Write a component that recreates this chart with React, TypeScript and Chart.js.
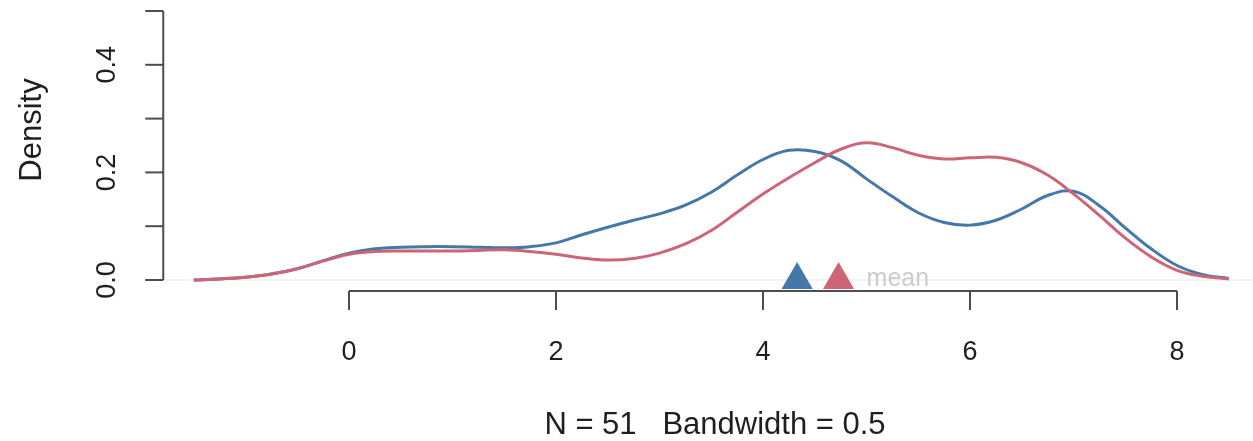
import React, { useEffect, useRef } from 'react';
import { Chart, registerables } from 'chart.js';

Chart.register(...registerables);

// ---- data ----
const xGrid = [-1.5, -1.25, -1.0, -0.75, -0.5, -0.25, 0.0, 0.25, 0.5, 0.75, 1.0, 1.25, 1.5, 1.75, 2.0, 2.25, 2.5, 2.75, 3.0, 3.25, 3.5, 3.75, 4.0, 4.25, 4.5, 4.75, 5.0, 5.25, 5.5, 5.75, 6.0, 6.25, 6.5, 6.75, 7.0, 7.25, 7.5, 7.75, 8.0, 8.25, 8.5];
const blueDensity = [0.0, 0.002, 0.005, 0.011, 0.021, 0.036, 0.05, 0.058, 0.061, 0.062, 0.062, 0.061, 0.06, 0.062, 0.069, 0.084, 0.098, 0.111, 0.123, 0.139, 0.163, 0.195, 0.224, 0.241, 0.239, 0.222, 0.188, 0.155, 0.125, 0.107, 0.102, 0.111, 0.132, 0.157, 0.165, 0.138, 0.097, 0.058, 0.027, 0.01, 0.003];
const redDensity = [0.0, 0.002, 0.005, 0.011, 0.021, 0.035, 0.048, 0.053, 0.054, 0.054, 0.054, 0.055, 0.056, 0.053, 0.048, 0.041, 0.037, 0.04, 0.05, 0.067, 0.092, 0.126, 0.16, 0.19, 0.218, 0.243, 0.255, 0.246, 0.232, 0.225, 0.227, 0.228, 0.218, 0.195, 0.16, 0.12, 0.078, 0.043, 0.018, 0.007, 0.002];
const meanValues = [4.33, 4.73];
const seriesColors = ['#4477AA', '#CC6677'];
const xTicks = [0, 2, 4, 6, 8];
const yTicks = [0, 0.1, 0.2, 0.3, 0.4, 0.5];
const yTickLabels = ['0.0', '', '0.2', '', '0.4', ''];
const xTitle = 'N = 51   Bandwidth = 0.5';
const yTitle = 'Density';
const meanLabel = 'mean';

const FONT = '"Liberation Sans", Arial, Helvetica, sans-serif';
const AXIS_COLOR = '#4d4d4d';

const rAxesPlugin = {
  id: 'rAxes',
  beforeDatasetsDraw(chart: any) {
    const { ctx, chartArea, scales } = chart;
    const y0 = scales.y.getPixelForValue(0);
    ctx.save();
    ctx.strokeStyle = '#efefef';
    ctx.lineWidth = 1.5;
    ctx.beginPath();
    ctx.moveTo(chartArea.left - 30, y0);
    ctx.lineTo(chart.width, y0);
    ctx.stroke();
    ctx.restore();
  },
  afterDraw(chart: any) {
    const { ctx, chartArea, scales } = chart;
    const xs = scales.x;
    const ys = scales.y;
    ctx.save();
    ctx.strokeStyle = AXIS_COLOR;
    ctx.fillStyle = '#1f1f1f';
    ctx.lineWidth = 2;

    // y axis
    const yAxisX = chartArea.left - 30.5;
    ctx.beginPath();
    ctx.moveTo(yAxisX, ys.getPixelForValue(yTicks[0]));
    ctx.lineTo(yAxisX, ys.getPixelForValue(yTicks[yTicks.length - 1]));
    ctx.stroke();
    ctx.font = `27px ${FONT}`;
    ctx.textAlign = 'center';
    ctx.textBaseline = 'middle';
    yTicks.forEach((v, i) => {
      const py = ys.getPixelForValue(v);
      ctx.beginPath();
      ctx.moveTo(yAxisX, py);
      ctx.lineTo(yAxisX - 18, py);
      ctx.stroke();
      if (yTickLabels[i]) {
        ctx.save();
        ctx.translate(yAxisX - 56, py);
        ctx.rotate(-Math.PI / 2);
        ctx.fillText(yTickLabels[i], 0, 0);
        ctx.restore();
      }
    });

    // x axis
    const xAxisY = chartArea.bottom + 11;
    ctx.beginPath();
    ctx.moveTo(xs.getPixelForValue(xTicks[0]), xAxisY);
    ctx.lineTo(xs.getPixelForValue(xTicks[xTicks.length - 1]), xAxisY);
    ctx.stroke();
    xTicks.forEach((v) => {
      const px = xs.getPixelForValue(v);
      ctx.beginPath();
      ctx.moveTo(px, xAxisY);
      ctx.lineTo(px, xAxisY + 19);
      ctx.stroke();
      ctx.fillText(String(v), px, xAxisY + 62);
    });

    // titles
    ctx.font = `31px ${FONT}`;
    ctx.fillText(xTitle, 715, 425);
    ctx.save();
    ctx.translate(32, 130);
    ctx.rotate(-Math.PI / 2);
    ctx.fillText(yTitle, 0, 0);
    ctx.restore();

    // mean label
    ctx.font = `25px ${FONT}`;
    ctx.fillStyle = '#cccccc';
    ctx.textAlign = 'left';
    ctx.textBaseline = 'alphabetic';
    const lastMean = Math.max(...meanValues);
    ctx.fillText(meanLabel, xs.getPixelForValue(lastMean) + 28, ys.getPixelForValue(0) + 6);
    ctx.restore();
  },
};

export default function App() {
  const canvasRef = useRef<HTMLCanvasElement | null>(null);

  useEffect(() => {
    document.body.style.margin = '0';
    const canvas = canvasRef.current;
    if (!canvas) return;
    const chart = new Chart(canvas, {
      type: 'line',
      data: {
        datasets: [
          {
            type: 'scatter',
            data: meanValues.map((m) => ({ x: m, y: 0 })),
            pointStyle: 'triangle',
            pointRadius: 18,
            pointBorderWidth: 0,
            pointBackgroundColor: seriesColors,
            pointBorderColor: seriesColors,
            showLine: false,
            clip: false,
            order: 0,
          } as any,
          {
            data: xGrid.map((x, i) => ({ x, y: blueDensity[i] })),
            borderColor: seriesColors[0],
            borderWidth: 3,
            pointRadius: 0,
            tension: 0.4,
            fill: false,
            clip: false,
            order: 2,
          },
          {
            data: xGrid.map((x, i) => ({ x, y: redDensity[i] })),
            borderColor: seriesColors[1],
            borderWidth: 3,
            pointRadius: 0,
            tension: 0.4,
            fill: false,
            clip: false,
            order: 1,
          },
        ],
      },
      options: {
        animation: false,
        responsive: false,
        layout: { autoPadding: false, padding: { left: 193.75, right: 24.25, top: 11, bottom: 161 } },
        scales: {
          x: { type: 'linear', min: -1.5, max: 8.5, display: false },
          y: { type: 'linear', min: 0, max: 0.5, display: false },
        },
        plugins: { legend: { display: false }, tooltip: { enabled: false } },
      },
      plugins: [rAxesPlugin],
    });
    return () => chart.destroy();
  }, []);

  return <canvas ref={canvasRef} width={1253} height={441} style={{ display: 'block' }} />;
}
